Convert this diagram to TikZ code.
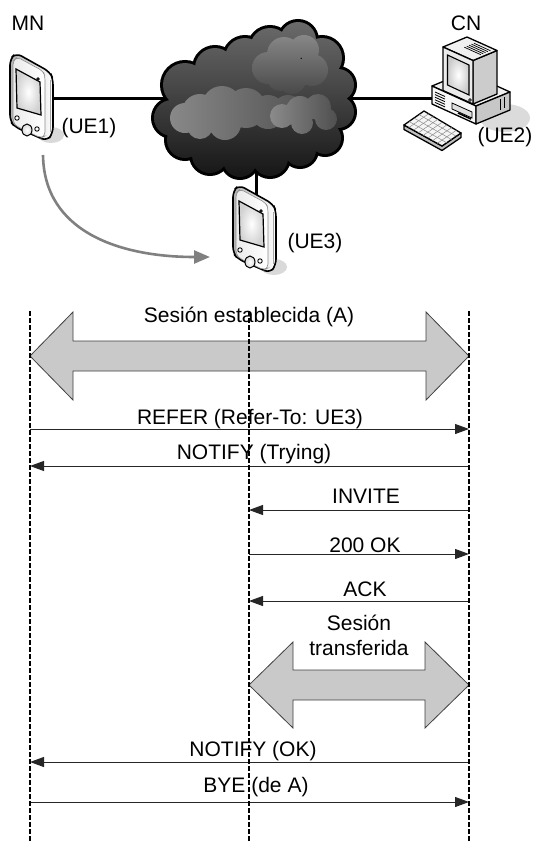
\documentclass[tikz,border=0pt]{standalone}
\usepackage{fontspec}
\setmainfont{Liberation Sans}
\usetikzlibrary{arrows.meta,calc}

\tikzset{
  % hand-held terminal (PDA style), drawn from its top-left corner
  handheld/.pic={
    \fill[black!15] (41,82) ellipse [x radius=13, y radius=8];
    \shadedraw[left color=black!30, right color=white, draw=black, line width=1.6pt, rounded corners=6pt]
      (0,6) -- (6,0) -- (40,19) -- (43,26) -- (43,80) -- (37,88) -- (5,74) -- (0,68) -- cycle;
    \shadedraw[left color=black!8, right color=white, draw=black!45, line width=0.6pt, rounded corners=4pt]
      (3,8) -- (7,4) -- (33,18) -- (35,23) -- (35,83) -- (31,85) -- (6,73) -- (3,69) -- cycle;
    \draw[black!35, line width=0.6pt] (40,27) -- (40,79);
    \shadedraw[inner color=white, outer color=black!18, draw=black, line width=1.2pt]
      (6,16) -- (30,29) -- (31,62) -- (7,55) -- cycle;
    \draw[line width=0.9pt, fill=white] (28,26) circle [radius=1.3];
    \draw[line width=0.9pt, fill=white] (7,65) circle [radius=2.2];
    \draw[line width=0.9pt, fill=white] (27,76) circle [radius=2.2];
    \shadedraw[inner color=white, outer color=black!15, line width=1pt] (17,77) ellipse [x radius=5, y radius=6];
  }
}

\begin{document}
\begin{tikzpicture}[x=1pt,y=-1pt,
  lbl/.style={inner sep=0pt, anchor=base, font=\fontsize{21}{25}\selectfont},
  lifeline/.style={line width=1.3pt, dash pattern=on 4.5pt off 2.5pt},
  msg/.style={line width=1pt, draw=black!85, -{Triangle[length=14pt,width=10pt]}},
  session/.style={fill=black!21, draw=black!75, line width=0.8pt, line join=miter},
  netlink/.style={line width=3pt},
  pcbody/.style={draw=black, line width=1.3pt, line join=round},
  moveto/.style={draw=black!50, line width=2.6pt, -{Triangle[length=16pt,width=13pt]}},
  ]
\useasboundingbox (0,0) rectangle (535,841);

% ---------------- network ----------------
\coordinate (ue1port) at (52,98);
\coordinate (cloudW) at (170,98);
\coordinate (cloudE) at (345,98);
\coordinate (cnport) at (433,98);
\coordinate (cloudS) at (256,160);
\coordinate (ue3port) at (256,195);
\draw[netlink] (ue1port) -- (cloudW);
\draw[netlink] (cloudE) -- (cnport);
\draw[netlink] (cloudS) -- (ue3port);

% cloud: outline of a union of puffs, then shaded interior
\foreach \cx/\cy/\cr in {172/118/18, 185/85/22, 215/68/20, 245/58/20, 270/48/20, 298/40/18,
    322/58/20, 338/85/16, 338/112/16, 325/138/16, 300/150/16, 270/158/18, 240/160/17,
    210/155/18, 185/140/18}
  \draw[line width=6pt] (\cx,\cy) circle [radius=\cr];
\draw[line width=6pt] (255,105) ellipse [x radius=85, y radius=55];
\begin{scope}
  \clip (255,105) ellipse [x radius=85, y radius=55]
    foreach \cx/\cy/\cr in {172/118/18, 185/85/22, 215/68/20, 245/58/20, 270/48/20, 298/40/18,
    322/58/20, 338/85/16, 338/112/16, 325/138/16, 300/150/16, 270/158/18, 240/160/17,
    210/155/18, 185/140/18} {(\cx,\cy) circle [radius=\cr]};
  \shade[top color=black!58, bottom color=black!92] (150,20) rectangle (360,180);
  % lighter inner puffs
  \begin{scope}
    \clip (185,118) circle [radius=15]
      foreach \cx/\cy/\cr in {200/112/18, 222/106/20, 246/108/20, 268/112/17, 288/110/15,
      225/124/16, 200/126/13} {(\cx,\cy) circle [radius=\cr]};
    \shade[left color=black!45, right color=black!68] (160,80) rectangle (310,145);
  \end{scope}
  \begin{scope}
    \clip (268,68) circle [radius=16]
      foreach \cx/\cy/\cr in {284/54/17, 304/50/15, 312/70/16, 292/80/14, 280/78/13} {(\cx,\cy) circle [radius=\cr]};
    \shade[top color=black!45, bottom color=black!72] (250,30) rectangle (330,95);
  \end{scope}
  \begin{scope}
    \clip (282,116) circle [radius=12]
      foreach \cx/\cy/\cr in {300/110/14, 318/107/13, 326/119/11, 302/123/11} {(\cx,\cy) circle [radius=\cr]};
    \shade[left color=black!45, right color=black!70] (268,92) rectangle (340,135);
  \end{scope}
\end{scope}

% mobile terminals
\pic at (10,53) {handheld};
\pic at (233,185) {handheld};

% correspondent node: desktop computer
\fill[black!14] (505,118) ellipse [x radius=25, y radius=14];
\coordinate (b0) at (432,86);  \coordinate (b1) at (476,106);
\coordinate (b2) at (510,92);  \coordinate (b3) at (466,72);
\coordinate (b0d) at (432,104); \coordinate (b1d) at (476,124); \coordinate (b2d) at (510,110);
\filldraw[pcbody, fill=black!6] (b0) -- (b1) -- (b2) -- (b3) -- cycle;
\filldraw[pcbody, fill=black!3] (b0) -- (b1) -- (b1d) -- (b0d) -- cycle;
\filldraw[pcbody, fill=black!22] (b1) -- (b2) -- (b2d) -- (b1d) -- cycle;
\foreach \k in {0,...,4}
  \draw[line width=0.8pt] (435,{92+2.6*\k}) -- (445,{96.5+2.6*\k});
\draw[line width=0.8pt, fill=black!12] (452,103) -- (472,112) -- (472,118) -- (452,109) -- cycle;
\draw[line width=1.6pt] (458,113) -- (471,119);
\draw[line width=0.9pt] (500,99) -- (500,110) (504,97) -- (504,108);

\coordinate (m0) at (443,47);  \coordinate (m1) at (473,60.5);
\coordinate (m2) at (497,50.5); \coordinate (m3) at (467,37);
\coordinate (m0d) at (443,90.5); \coordinate (m1d) at (473,104); \coordinate (m2d) at (497,94);
\filldraw[pcbody, fill=black!20] (m1) -- (m2) -- (m2d) -- (m1d) -- cycle;
\filldraw[pcbody, fill=black!6] (m0) -- (m1) -- (m2) -- (m3) -- cycle;
\foreach \s in {0.45,0.55,0.65,0.75,0.85}
  \draw[line width=0.7pt] ({453.5+24*\s},{51.7-10*\s}) -- ({470+24*\s},{59.2-10*\s});
\filldraw[pcbody, fill=black!8] (m0) -- (m1) -- (m1d) -- (m0d) -- cycle;
\shadedraw[inner color=white, outer color=black!20, draw=black, line width=1.1pt]
  (447.5,55) -- (469,65) -- (469,95) -- (447.5,85) -- cycle;
\draw[line width=0.8pt, fill=white] (470,100) circle [radius=1.4];

\coordinate (kT) at (424,111); \coordinate (kR) at (461,133);
\coordinate (kB) at (442,146); \coordinate (kL) at (404,125);
\coordinate (kLd) at (404,129.5); \coordinate (kBd) at (442,150.5); \coordinate (kRd) at (461,137.5);
\filldraw[pcbody, fill=black!25] (kL) -- (kB) -- (kR) -- (kRd) -- (kBd) -- (kLd) -- cycle;
\filldraw[pcbody, fill=black!4] (kL) -- (kT) -- (kR) -- (kB) -- cycle;
\foreach \t in {0.25,0.5,0.75}
  \draw[black!45, line width=0.5pt] ($(kL)!\t!(kT)$) -- ($(kB)!\t!(kR)$);
\foreach \t in {0.125,0.25,0.375,0.5,0.625,0.75,0.875}
  \draw[black!45, line width=0.5pt] ($(kL)!\t!(kB)$) -- ($(kT)!\t!(kR)$);

% terminal names
\node[lbl] (tMN) at (28,30) {MN};
\node[lbl] (tCN) at (466,30) {CN};
\node[lbl] (tUE1) at (89,133) {(UE1)};
\node[lbl] (tUE2) at (505,142) {(UE2)};
\node[lbl] (tUE3) at (315,248) {(UE3)};

% movement of the session from UE1 to UE3
\coordinate (moveA) at (43,155);
\coordinate (moveB) at (210,257);
\draw[moveto] (moveA) .. controls (44,232) and (120,257) .. (moveB);

% ---------------- message sequence ----------------
\coordinate (mnTop) at (30,311);  \coordinate (mnBot) at (30,841);
\coordinate (hoTop) at (249,311); \coordinate (hoBot) at (249,841);
\coordinate (cnTop) at (469,311); \coordinate (cnBot) at (469,841);

% established session A
\coordinate (sA) at (0,356);
\path[session] (mnTop |- sA) -- (73,312) -- (73,341) -- (426,341) -- (426,312) -- (cnTop |- sA)
  -- (426,400) -- (426,371) -- (73,371) -- (73,400) -- cycle;
\node[lbl] (lA) at (249,322) {Sesión establecida (A)};

% transferred session
\coordinate (sB) at (0,685);
\path[session] (hoTop |- sB) -- (293,642) -- (293,670) -- (425,670) -- (425,642) -- (cnTop |- sB)
  -- (425,728) -- (425,700) -- (293,700) -- (293,728) -- cycle;
\node[lbl] (lB1) at (359,630) {Sesión};
\node[lbl] (lB2) at (359,655) {transferida};

% messages
\coordinate (y1) at (0,429);
\coordinate (y2) at (0,466);
\coordinate (y3) at (0,510);
\coordinate (y4) at (0,554);
\coordinate (y5) at (0,601);
\coordinate (y6) at (0,762);
\coordinate (y7) at (0,802);

\draw[msg] (mnTop |- y1) -- (cnTop |- y1);
\node[lbl] (l1) at (250,424) {REFER (Refer-To: UE3)};
\draw[msg] (cnTop |- y2) -- (mnTop |- y2);
\node[lbl] (l2) at (254,459) {NOTIFY (Trying)};
\draw[msg] (cnTop |- y3) -- (hoTop |- y3);
\node[lbl] (l3) at (366,503) {INVITE};
\draw[msg] (hoTop |- y4) -- (cnTop |- y4);
\node[lbl] (l4) at (365,552) {200 OK};
\draw[msg] (cnTop |- y5) -- (hoTop |- y5);
\node[lbl] (l5) at (365,596) {ACK};
\draw[msg] (cnTop |- y6) -- (mnTop |- y6);
\node[lbl] (l6) at (253,756) {NOTIFY (OK)};
\draw[msg] (mnTop |- y7) -- (cnTop |- y7);
\node[lbl] (l7) at (256,792) {BYE (de A)};

% lifelines
\draw[lifeline] (mnTop) -- (mnBot);
\draw[lifeline] (hoTop) -- (hoBot);
\draw[lifeline] (cnTop) -- (cnBot);
\end{tikzpicture}
\end{document}
